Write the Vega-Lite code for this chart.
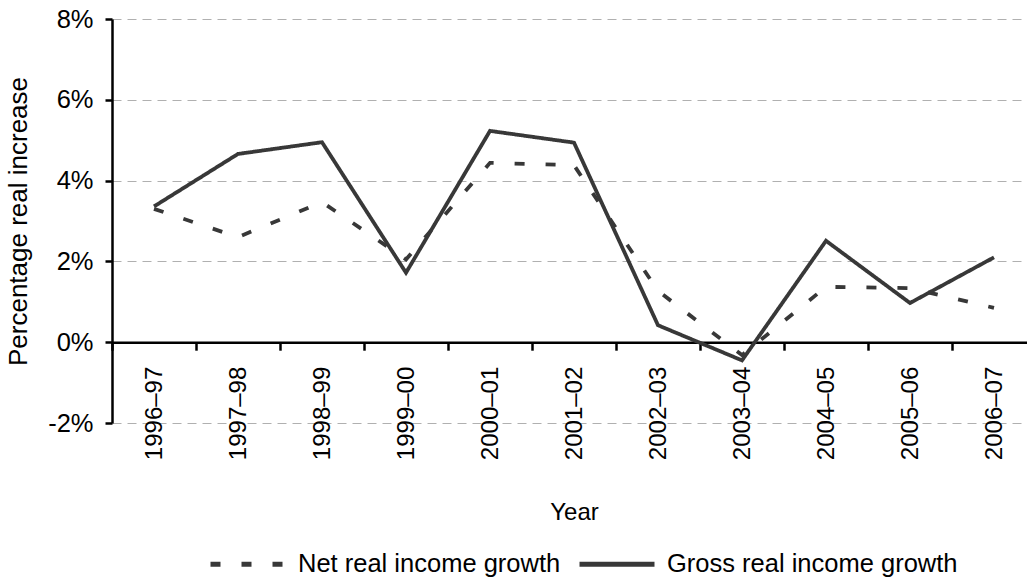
{
  "$schema": "https://vega.github.io/schema/vega-lite/v6.json",
  "width": 924,
  "height": 404,
  "autosize": {"type": "none"},
  "padding": {"left": 112, "top": 19, "right": 0, "bottom": 157},
  "background": "white",
  "config": {
    "view": {"stroke": null},
    "font": "Liberation Sans",
    "axis": {
      "domainColor": "#000000",
      "domainWidth": 2.5,
      "tickColor": "#000000",
      "tickWidth": 2.5,
      "labelColor": "#000000",
      "titleColor": "#000000",
      "titleFontWeight": "normal"
    }
  },
  "data": {
    "values": [
      {"year": "1996–97", "series": "Net real income growth", "pct": 3.3},
      {"year": "1997–98", "series": "Net real income growth", "pct": 2.6},
      {"year": "1998–99", "series": "Net real income growth", "pct": 3.47},
      {"year": "1999–00", "series": "Net real income growth", "pct": 2.05},
      {"year": "2000–01", "series": "Net real income growth", "pct": 4.44},
      {"year": "2001–02", "series": "Net real income growth", "pct": 4.38},
      {"year": "2002–03", "series": "Net real income growth", "pct": 1.27},
      {"year": "2003–04", "series": "Net real income growth", "pct": -0.32},
      {"year": "2004–05", "series": "Net real income growth", "pct": 1.37},
      {"year": "2005–06", "series": "Net real income growth", "pct": 1.34},
      {"year": "2006–07", "series": "Net real income growth", "pct": 0.85},
      {"year": "1996–97", "series": "Gross real income growth", "pct": 3.36},
      {"year": "1997–98", "series": "Gross real income growth", "pct": 4.66},
      {"year": "1998–99", "series": "Gross real income growth", "pct": 4.95},
      {"year": "1999–00", "series": "Gross real income growth", "pct": 1.72},
      {"year": "2000–01", "series": "Gross real income growth", "pct": 5.23},
      {"year": "2001–02", "series": "Gross real income growth", "pct": 4.94},
      {"year": "2002–03", "series": "Gross real income growth", "pct": 0.42},
      {"year": "2003–04", "series": "Gross real income growth", "pct": -0.45},
      {"year": "2004–05", "series": "Gross real income growth", "pct": 2.51},
      {"year": "2005–06", "series": "Gross real income growth", "pct": 0.97},
      {"year": "2006–07", "series": "Gross real income growth", "pct": 2.1}
    ]
  },
  "mark": {"type": "line", "color": "#383838", "strokeWidth": 3.8, "strokeCap": "butt", "strokeJoin": "miter"},
  "encoding": {
    "x": {
      "field": "year",
      "type": "nominal",
      "sort": null,
      "scale": {"type": "band", "paddingInner": 0, "paddingOuter": 0},
      "axis": {
        "title": "Year",
        "titleFontSize": 24,
        "titleY": 177,
        "titleBaseline": "alphabetic",
        "offset": -80.8,
        "labelAngle": -90,
        "labelAlign": "right",
        "labelBaseline": "middle",
        "labelFontSize": 24,
        "labelPadding": 16,
        "tickSize": 8,
        "tickBand": "extent",
        "grid": false
      }
    },
    "y": {
      "field": "pct",
      "type": "quantitative",
      "scale": {"domain": [-2, 8], "nice": false, "zero": false},
      "axis": {
        "title": "Percentage real increase",
        "titleFontSize": 26,
        "titleX": -86,
        "titleBaseline": "alphabetic",
        "values": [-2, 0, 2, 4, 6, 8],
        "labelExpr": "datum.value + '%'",
        "labelFontSize": 25.5,
        "labelPadding": 12,
        "tickSize": 7,
        "grid": true,
        "gridDash": [9, 6],
        "gridWidth": 1,
        "gridColor": {"condition": {"test": "datum.value === 0", "value": "transparent"}, "value": "#b0b0b0"}
      }
    },
    "strokeDash": {
      "field": "series",
      "type": "nominal",
      "scale": {
        "domain": ["Net real income growth", "Gross real income growth"],
        "range": [[10, 21], [1, 0]]
      },
      "legend": {
        "title": null,
        "orient": "none",
        "direction": "horizontal",
        "legendX": 96,
        "legendY": 505,
        "symbolType": "stroke",
        "symbolSize": 5625,
        "symbolStrokeWidth": 5,
        "symbolStrokeColor": "#383838",
        "labelFontSize": 25.5,
        "labelColor": "#000000",
        "labelOffset": 10,
        "columnPadding": 8,
        "labelLimit": 500
      }
    }
  }
}
